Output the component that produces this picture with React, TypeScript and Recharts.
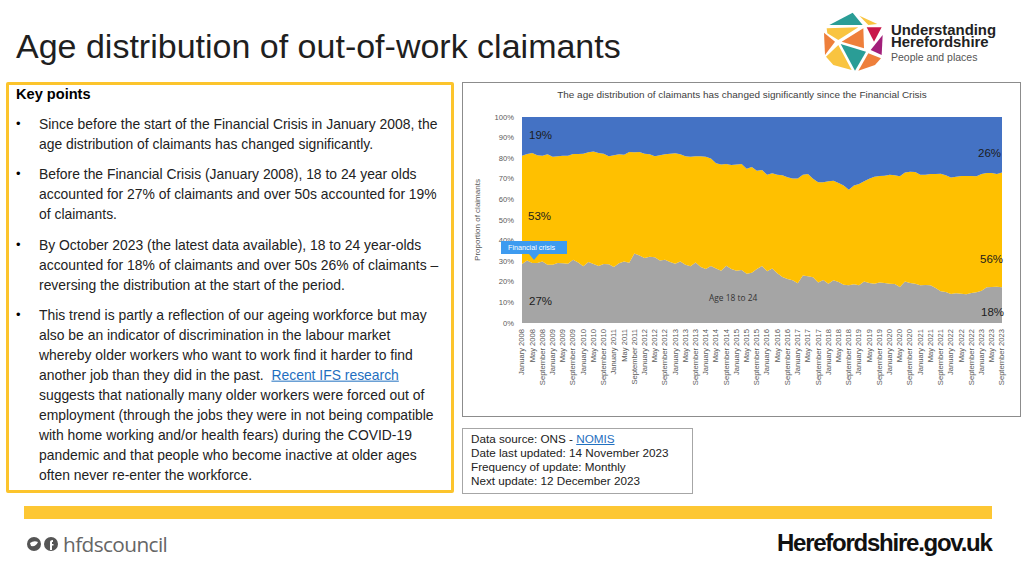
import { Area, AreaChart, XAxis, YAxis } from 'recharts';

const monthNames = ['January', 'March', 'May', 'July', 'September', 'November'];
const years = [2008, 2009, 2010, 2011, 2012, 2013, 2014, 2015, 2016, 2017, 2018, 2019, 2020, 2021, 2022, 2023];
// two-monthly readings, January 2008 to September 2023
const periods = years
  .flatMap((y) => monthNames.map((m) => `${m} ${y}`))
  .filter((p) => p !== 'November 2023');

const age18to24 = [
  28.6, 30.4, 29.1, 29.1, 29.9, 28.3, 28.3, 29.1, 29, 28.8, 30.7, 29.4, 27.5, 29.6, 28.6, 27.7,
  28.6, 28.5, 27.2, 29, 29.8, 29.3, 33.7, 32.8, 31.6, 32.2, 31.9, 30.3, 30.7, 29.6, 28.8, 29.9,
  28.3, 27.5, 29.4, 27.2, 26.2, 27.7, 26.4, 25.4, 27.8, 26.2, 25.4, 25.7, 23.9, 24.4, 26.2, 27.7,
  25.1, 26.5, 24.1, 22.3, 21.4, 20.7, 19.3, 23, 22.7, 22.2, 19.6, 20.9, 19.1, 20.7, 19.9, 18.6,
  18.3, 18.8, 18.3, 20.2, 19.4, 19.1, 19.6, 19.4, 19.1, 18.9, 17.5, 20.2, 19.4, 19.1, 18.3, 18.4,
  18.3, 17, 15.4, 15, 14.1, 14.4, 14.2, 13.9, 14.6, 14.9, 15.7, 17.3, 17.5, 17.6, 17.3,
];
const age25to49 = [
  52.6, 51.6, 53.4, 52.3, 51.3, 53.6, 52.4, 51.9, 52.2, 52.4, 51.3, 52.6, 54.7, 53.3, 54.6, 54.8,
  53.6, 52.5, 54.2, 52.9, 51.9, 53.7, 49.2, 50.2, 50.6, 49.7, 49, 51.1, 51.2, 52.6, 53.6, 52,
  52.6, 53.2, 51.6, 53.8, 54.5, 52.1, 51.1, 51.5, 49.4, 50.5, 51.5, 51.5, 51, 51.3, 47.7, 46.6,
  46.9, 46.2, 47.9, 49.4, 49.3, 49.5, 50.9, 49, 49.6, 47.8, 48.7, 47.4, 49.7, 48.4, 48.1, 48.2,
  46.4, 47.9, 49.2, 48.6, 50.6, 51.9, 51.8, 52.1, 52.9, 52.8, 53.7, 52.9, 54, 54.2, 53.7, 53.6,
  54, 55.3, 57.1, 56.7, 56.5, 56.6, 57.2, 57.5, 56.8, 56.3, 56.6, 55.5, 55.3, 54.7, 55.7,
];
const over50 = [
  18.8, 18, 17.5, 18.6, 18.8, 18.1, 19.3, 19, 18.8, 18.8, 18, 18, 17.8, 17.1, 16.8, 17.5,
  17.8, 19, 18.6, 18.1, 18.3, 17, 17.1, 17, 17.8, 18.1, 19.1, 18.6, 18.1, 17.8, 17.6, 18.1,
  19.1, 19.3, 19, 19, 19.3, 20.2, 22.5, 23.1, 22.8, 23.3, 23.1, 22.8, 25.1, 24.3, 26.1, 25.7,
  28, 27.3, 28, 28.3, 29.3, 29.8, 29.8, 28, 27.7, 30, 31.7, 31.7, 31.2, 30.9, 32, 33.2,
  35.3, 33.3, 32.5, 31.2, 30, 29, 28.6, 28.5, 28, 28.3, 28.8, 26.9, 26.6, 26.7, 28, 28,
  27.7, 27.7, 27.5, 28.3, 29.4, 29, 28.6, 28.6, 28.6, 28.8, 27.7, 27.2, 27.2, 27.7, 27,
];
const yTicks = [0, 10, 20, 30, 40, 50, 60, 70, 80, 90, 100];

const chartData = periods.map((period, i) => ({
  period,
  young: age18to24[i],
  middle: age25to49[i],
  older: over50[i],
}));

const FONT = '"Liberation Sans", Arial, sans-serif';

const keyPoints: { y: number; text: string; bullet?: boolean }[] = [
  { y: 124, text: 'Since before the start of the Financial Crisis in January 2008, the', bullet: true },
  { y: 144, text: 'age distribution of claimants has changed significantly.' },
  { y: 174, text: 'Before the Financial Crisis (January 2008), 18 to 24 year olds', bullet: true },
  { y: 194, text: 'accounted for 27% of claimants and over 50s accounted for 19%' },
  { y: 214, text: 'of claimants.' },
  { y: 245, text: 'By October 2023 (the latest data available), 18 to 24 year-olds', bullet: true },
  { y: 265, text: 'accounted for 18% of claimants and over 50s 26% of claimants –' },
  { y: 285, text: 'reversing the distribution at the start of the period.' },
  { y: 315, text: 'This trend is partly a reflection of our ageing workforce but may', bullet: true },
  { y: 335, text: 'also be an indicator of discrimination in the labour market' },
  { y: 355, text: 'whereby older workers who want to work find it harder to find' },
  { y: 395, text: 'suggests that nationally many older workers were forced out of' },
  { y: 415, text: 'employment (through the jobs they were in not being compatible' },
  { y: 435, text: 'with home working and/or health fears) during the COVID-19' },
  { y: 455, text: 'pandemic and that people who become inactive at older ages' },
  { y: 475, text: 'often never re-enter the workforce.' },
];

const pctLabels = [
  { x: 529, y: 136, text: '19%', size: 11.5 },
  { x: 528, y: 217, text: '53%', size: 11.5 },
  { x: 529, y: 302, text: '27%', size: 11.5 },
  { x: 978, y: 154, text: '26%', size: 11.5 },
  { x: 980, y: 260, text: '56%', size: 11.5 },
  { x: 981, y: 313, text: '18%', size: 11.5 },
];

function Abs({ x, y, size, color = '#000', bold, children, style }: any) {
  // y is the text's vertical centre
  return (
    <div
      style={{
        position: 'absolute',
        left: x,
        top: y,
        transform: 'translateY(-50%)',
        fontSize: size,
        color,
        fontWeight: bold ? 700 : 400,
        whiteSpace: 'nowrap',
        lineHeight: 1.2,
        ...style,
      }}
    >
      {children}
    </div>
  );
}

function Logo() {
  return (
    <svg width={224} height={85} viewBox="0 0 672 255" style={{ position: 'absolute', left: 800, top: 0 }}>
      <polygon points="88,75 158,38 188,75" fill="#2a9d96" />
      <polygon points="178,47 232,72 205,75" fill="#f9c440" />
      <polygon points="80,85 175,82 115,120 82,100" fill="#f9c440" />
      <polygon points="190,85 192,145 125,125" fill="#ee7f3b" />
      <polygon points="200,82 245,82 222,125" fill="#c9184a" />
      <polygon points="248,105 245,165 212,150" fill="#a21f7a" />
      <polygon points="72,98 105,125 75,165" fill="#ee7f3b" />
      <polygon points="115,135 155,210 100,195 78,170" fill="#f9c440" />
      <polygon points="122,132 198,155 165,212" fill="#2a9d96" />
      <polygon points="205,160 243,175 225,195 175,212" fill="#ee7f3b" />
    </svg>
  );
}

export default function App() {
  return (
    <div
      style={{
        position: 'absolute',
        left: 0,
        top: 0,
        width: 1024,
        height: 576,
        overflow: 'hidden',
        background: '#fff',
        fontFamily: FONT,
      }}
    >
      <Abs x={16} y={45.5} size={34} color="#1f1f1f">
        Age distribution of out-of-work claimants
      </Abs>

      <Logo />
      <Abs x={891} y={36.5} size={14.9} bold color="#222" style={{ lineHeight: '12.8px' }}>
        Understanding
        <br />
        Herefordshire
      </Abs>
      <Abs x={891} y={57} size={10.5} color="#555">People and places</Abs>

      {/* key points panel */}
      <div
        style={{
          position: 'absolute',
          left: 6,
          top: 82,
          width: 442,
          height: 405,
          border: '3px solid #fcc42c',
          borderRadius: 2,
        }}
      />
      <Abs x={16} y={95} size={14.6} bold>Key points</Abs>
      {keyPoints.map((p) => (
        <div key={p.y}>
          {p.bullet && <Abs x={16} y={p.y} size={13}>•</Abs>}
          <Abs x={39} y={p.y} size={13.9} color="#222">{p.text}</Abs>
        </div>
      ))}
      <Abs x={39} y={375} size={13.9} color="#222" style={{ whiteSpace: 'pre' }}>
        {'another job than they did in the past.  '}
        <span style={{ color: '#1f6fc0', textDecoration: 'underline' }}>Recent IFS research</span>
      </Abs>

      {/* chart panel */}
      <div
        style={{
          position: 'absolute',
          left: 462,
          top: 82,
          width: 557,
          height: 333,
          border: '1px solid #8c8c8c',
        }}
      />
      <div style={{ position: 'absolute', left: 462, top: 82 }}>
        <AreaChart
          width={559}
          height={335}
          data={chartData}
          margin={{ top: 35, right: 19, bottom: 0, left: 0 }}
        >
          <XAxis
            dataKey="period"
            interval={1}
            angle={-90}
            textAnchor="end"
            height={94}
            axisLine={false}
            tickLine={false}
            tickMargin={3}
            dy={-3}
            dx={-3}
            tick={{ fontSize: 7.6, fill: '#595959', fontFamily: FONT }}
          />
          <YAxis
            domain={[0, 100]}
            ticks={yTicks}
            width={60}
            axisLine={false}
            tickLine={false}
            tickFormatter={(v) => `${v}%`}
            tick={{ fontSize: 7.6, fill: '#595959', fontFamily: FONT }}
          />
          <Area type="linear" dataKey="young" stackId="1" stroke="none" fill="#A5A5A5" fillOpacity={1} isAnimationActive={false} />
          <Area type="linear" dataKey="middle" stackId="1" stroke="none" fill="#FFC000" fillOpacity={1} isAnimationActive={false} />
          <Area type="linear" dataKey="older" stackId="1" stroke="none" fill="#4472C4" fillOpacity={1} isAnimationActive={false} />
        </AreaChart>
      </div>

      <Abs x={742} y={94.5} size={9.95} color="#404040" style={{ transform: 'translate(-50%, -50%)' }}>
        The age distribution of claimants has changed significantly since the Financial Crisis
      </Abs>
      <Abs
        x={478}
        y={220}
        size={8}
        color="#595959"
        style={{ transform: 'translate(-50%, -50%) rotate(-90deg)' }}
      >
        Proportion of claimants
      </Abs>

      {pctLabels.map((l) => (
        <Abs key={l.text} x={l.x} y={l.y} size={l.size} color="#1c1c1c">{l.text}</Abs>
      ))}
      <Abs x={709} y={298} size={8.4} color="#333" style={{ fontFamily: '"Open Sans", sans-serif' }}>Age 18 to 24</Abs>

      {/* financial crisis callout */}
      <div style={{ position: 'absolute', left: 501, top: 241, width: 66, height: 13, background: '#3d9bf0' }} />
      <svg width={12} height={6} style={{ position: 'absolute', left: 528, top: 254 }}>
        <polygon points="1,0 11,0 6,6" fill="#3d9bf0" />
      </svg>
      <Abs x={508} y={248} size={7.2} color="#fff">Financial crisis</Abs>

      {/* data source box */}
      <div
        style={{
          position: 'absolute',
          left: 462,
          top: 428,
          width: 229,
          height: 64,
          border: '1px solid #a6a6a6',
        }}
      />
      <Abs x={471} y={439} size={11.7} color="#222">
        Data source: ONS - <span style={{ color: '#1f6fc0', textDecoration: 'underline' }}>NOMIS</span>
      </Abs>
      <Abs x={471} y={453} size={11.7} color="#222">Date last updated: 14 November 2023</Abs>
      <Abs x={471} y={467} size={11.7} color="#222">Frequency of update: Monthly</Abs>
      <Abs x={471} y={481} size={11.7} color="#222">Next update: 12 December 2023</Abs>

      {/* footer */}
      <div style={{ position: 'absolute', left: 24, top: 506, width: 968, height: 13, background: '#fdc734' }} />
      <svg width={36} height={16} style={{ position: 'absolute', left: 26, top: 536 }}>
        <circle cx={8} cy={8} r={7} fill="#555" />
        <path d="M4 7 Q8 4 12 6 Q10 11 5 10 Z" fill="#fff" />
        <circle cx={25} cy={8} r={7} fill="#555" />
        <path d="M24 14 V6 Q24 4 27 4 V6 H26 V8 H27.5 V9.5 H26 V14 Z" fill="#fff" />
      </svg>
      <Abs x={63} y={544} size={20.8} color="#666" style={{ fontFamily: '"Open Sans", sans-serif', letterSpacing: -0.6 }}>
        hfdscouncil
      </Abs>
      <Abs x={777} y={543} size={24} bold color="#111" style={{ letterSpacing: -1.25 }}>
        Herefordshire.gov.uk
      </Abs>
    </div>
  );
}
